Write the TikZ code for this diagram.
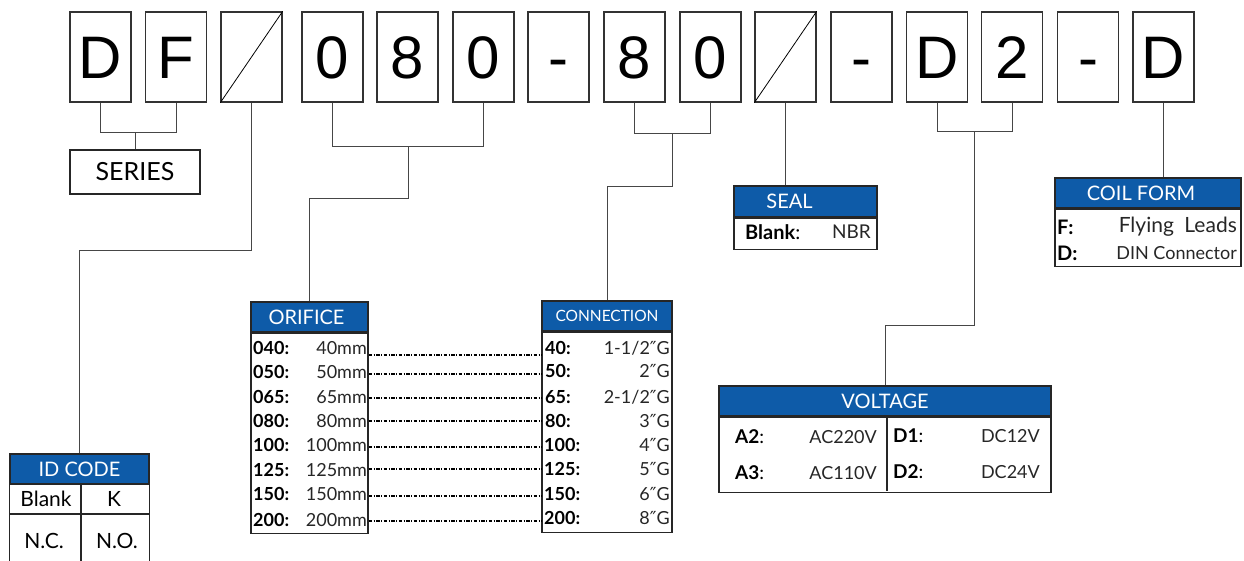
\documentclass[tikz,border=0pt]{standalone}
\usepackage{fontspec}
\setmainfont{Lato}
\newfontfamily\bigf{Liberation Sans}
\newfontfamily\dvs{DejaVu Sans}
\usetikzlibrary{calc}
\definecolor{hdblue}{RGB}{14,91,168}
\definecolor{conncol}{RGB}{70,70,70}
\newcommand{\inch}{{\dvs″}}
\begin{document}
\begin{tikzpicture}[x=1pt,y=-1pt,
  letterbox/.style={draw=black!80,line width=1.3pt,minimum width=61pt,minimum height=90pt,inner sep=0pt,text height=43pt,text depth=0pt,font=\bigf\fontsize{60}{60}\selectfont},
  conn/.style={draw=conncol,line width=1pt},
  hdr/.style={draw=black!85,fill=hdblue,line width=1.2pt,text=white,inner sep=0pt,font=\fontsize{20}{20}\selectfont},
  tbl/.style={draw=black!85,line width=1.2pt,inner sep=0pt},
  code/.style={font=\bfseries\fontsize{18}{18}\selectfont,anchor=west,inner sep=0pt},
  val/.style={font=\fontsize{18}{18}\selectfont,anchor=east,inner sep=0pt,text=black!85},
  cell/.style={inner sep=0pt,font=\fontsize{21}{21}\selectfont},
  dotline/.style={draw=black,line width=1.1pt,dash pattern=on 3.5pt off 1.5pt on 1pt off 1.5pt}
]
\useasboundingbox (0,0) rectangle (1244,560);

% top letter boxes
\node[letterbox] (b1) at (100.5,57) {D};
\node[letterbox] (b2) at (176,57) {F};
\node[letterbox] (b3) at (251.5,57) {};
\node[letterbox] (b4) at (332.5,57) {0};
\node[letterbox] (b5) at (407.5,57) {8};
\node[letterbox] (b6) at (483.5,57) {0};
\node[letterbox] (b7) at (558.5,57) {-};
\node[letterbox] (b8) at (634.5,57) {8};
\node[letterbox] (b9) at (710.5,57) {0};
\node[letterbox] (b10) at (785.5,57) {};
\node[letterbox] (b11) at (861.5,57) {-};
\node[letterbox] (b12) at (937,57) {D};
\node[letterbox] (b13) at (1012,57) {2};
\node[letterbox] (b14) at (1088,57) {-};
\node[letterbox] (b15) at (1163.5,57) {D};
\draw[line width=0.8pt] (b3.south west) -- (b3.north east);
\draw[line width=0.8pt] (b10.south west) -- (b10.north east);

% SERIES
\node[draw=black!85,line width=1.2pt,minimum width=130pt,minimum height=44pt,inner sep=0pt,font=\fontsize{25}{25}\selectfont] (series) at (135,172) {SERIES};

% ID CODE
\node[hdr,minimum width=139pt,minimum height=30pt] (idh) at (79.5,469) {ID CODE};
\node[cell] (idc1) at (46,499) {Blank};
\node[cell] (idc2) at (114,499) {K};
\node[cell] (idc3) at (44,541) {N.C.};
\node[cell] (idc4) at (117,541) {N.O.};
\draw[tbl] (idh.south west) -- (idh.south west |- 0,562);
\draw[tbl] (idh.south east) -- (idh.south east |- 0,562);
\draw[tbl] (idh.south west |- 0,514) -- (idh.south east |- 0,514);
\draw[tbl] (81,484) -- (81,562);

% ORIFICE
\node[hdr,minimum width=117pt,minimum height=30pt] (orh) at (309.5,317) {ORIFICE\hspace*{6pt}};
\node[tbl,draw,minimum width=117pt,minimum height=200pt,anchor=north] (orb) at (orh.south) {};
\foreach \c/\v/\y [count=\i] in {040/40mm/348,050/50mm/372,065/65mm/397,080/80mm/421,100/100mm/445,125/125mm/470,150/150mm/494,200/200mm/520}{
  \node[code] (oc\i) at (253,\y) {\c:};
  \node[val] (ov\i) at (367,\y) {\v};
}

% CONNECTION
\node[hdr,minimum width=130pt,minimum height=30pt,font=\fontsize{15.5}{16}\selectfont] (cnh) at (607,316) {CONNECTION};
\node[tbl,draw,minimum width=130pt,minimum height=200pt,anchor=north] (cnb) at (cnh.south) {};
\node[code] (cc1) at (545,348) {40:};
\node[code] (cc2) at (545,371) {50:};
\node[code] (cc3) at (545,397) {65:};
\node[code] (cc4) at (545,421) {80:};
\node[code] (cc5) at (544,445) {100:};
\node[code] (cc6) at (544,469) {125:};
\node[code] (cc7) at (544,494) {150:};
\node[code] (cc8) at (544,518) {200:};
\node[val] (cv1) at (670,348) {1-1/2\inch G};
\node[val] (cv2) at (670,371) {2\inch G};
\node[val] (cv3) at (670,397) {2-1/2\inch G};
\node[val] (cv4) at (670,421) {3\inch G};
\node[val] (cv5) at (670,445) {4\inch G};
\node[val] (cv6) at (670,469) {5\inch G};
\node[val] (cv7) at (670,494) {6\inch G};
\node[val] (cv8) at (670,518) {8\inch G};

% dotted links
\foreach \y in {355,374,398,421,447,469,496,521}{
  \draw[dotline] (orb.east |- 0,\y) -- (cnb.west |- 0,\y);
}

% SEAL
\node[hdr,minimum width=143pt,minimum height=31pt] (sealh) at (805.5,201.5) {SEAL\hspace*{32pt}};
\node[tbl,draw,minimum width=143pt,minimum height=31pt,anchor=north] (sealb) at (sealh.south) {};
\node[cell,anchor=west,font=\fontsize{20}{20}\selectfont] (sk) at (745,232) {\textbf{Blank}:};
\node[cell,anchor=east,font=\fontsize{19}{19}\selectfont,text=black!85] (sv) at (871,232) {NBR};

% COIL FORM
\node[hdr,minimum width=186pt,minimum height=30pt] (coilh) at (1148,193) {COIL FORM\hspace*{14pt}};
\node[tbl,draw,minimum width=186pt,minimum height=57pt,anchor=north] (coilb) at (coilh.south) {};
\node[code,font=\bfseries\fontsize{20}{20}\selectfont] (cf1) at (1057,227) {F:};
\node[val,font=\fontsize{21}{21}\selectfont] (cfv1) at (1237,227) {Flying\hspace{0.5em}Leads};
\node[code,font=\bfseries\fontsize{20}{20}\selectfont] (cf2) at (1057,253) {D:};
\node[val,font=\fontsize{18}{18}\selectfont] (cfv2) at (1237,253) {DIN Connector};

% VOLTAGE
\node[hdr,minimum width=332pt,minimum height=30pt] (volh) at (885,401) {VOLTAGE};
\node[tbl,draw,minimum width=332pt,minimum height=75pt,anchor=north] (volb) at (volh.south) {};
\draw[tbl] (887,416) -- (887,491);
\node[code,font=\fontsize{19}{19}\selectfont] (va1) at (735,437) {\textbf{A2}:};
\node[val] (vv1) at (877,437) {AC220V};
\node[code,font=\fontsize{19}{19}\selectfont] (va2) at (735,473) {\textbf{A3}:};
\node[val] (vv2) at (877,473) {AC110V};
\node[code,font=\fontsize{19}{19}\selectfont] (vd1) at (893,436) {\textbf{D1}:};
\node[val] (vw1) at (1040,436) {DC12V};
\node[code,font=\fontsize{19}{19}\selectfont] (vd2) at (893,472) {\textbf{D2}:};
\node[val] (vw2) at (1040,472) {DC24V};

% connectors
\draw[conn] (b1.south) -- (b1.south |- 0,132) -| (b2.south);
\draw[conn] (series.north) -- (series.north |- 0,132);
\draw[conn] (b3.south) -- (b3.south |- 0,250) -| (idh.north);
\draw[conn] (b4.south) -- (b4.south |- 0,146) -| (b6.south);
\coordinate (m1) at (408,146);
\draw[conn] (m1) -- (m1 |- 0,198) -| (orh.north);
\draw[conn] (b8.south) -- (b8.south |- 0,133) -| (b9.south);
\coordinate (m2) at (672.5,133);
\draw[conn] (m2) -- (m2 |- 0,186) -| (cnh.north);
\draw[conn] (b10.south) -- (b10.south |- sealh.north);
\draw[conn] (b12.south) -- (b12.south |- 0,131) -| (b13.south);
\coordinate (m3) at (974.5,131);
\draw[conn] (m3) -- (m3 |- 0,325) -| (volh.north);
\draw[conn] (b15.south) -- (b15.south |- coilh.north);
\end{tikzpicture}
\end{document}
